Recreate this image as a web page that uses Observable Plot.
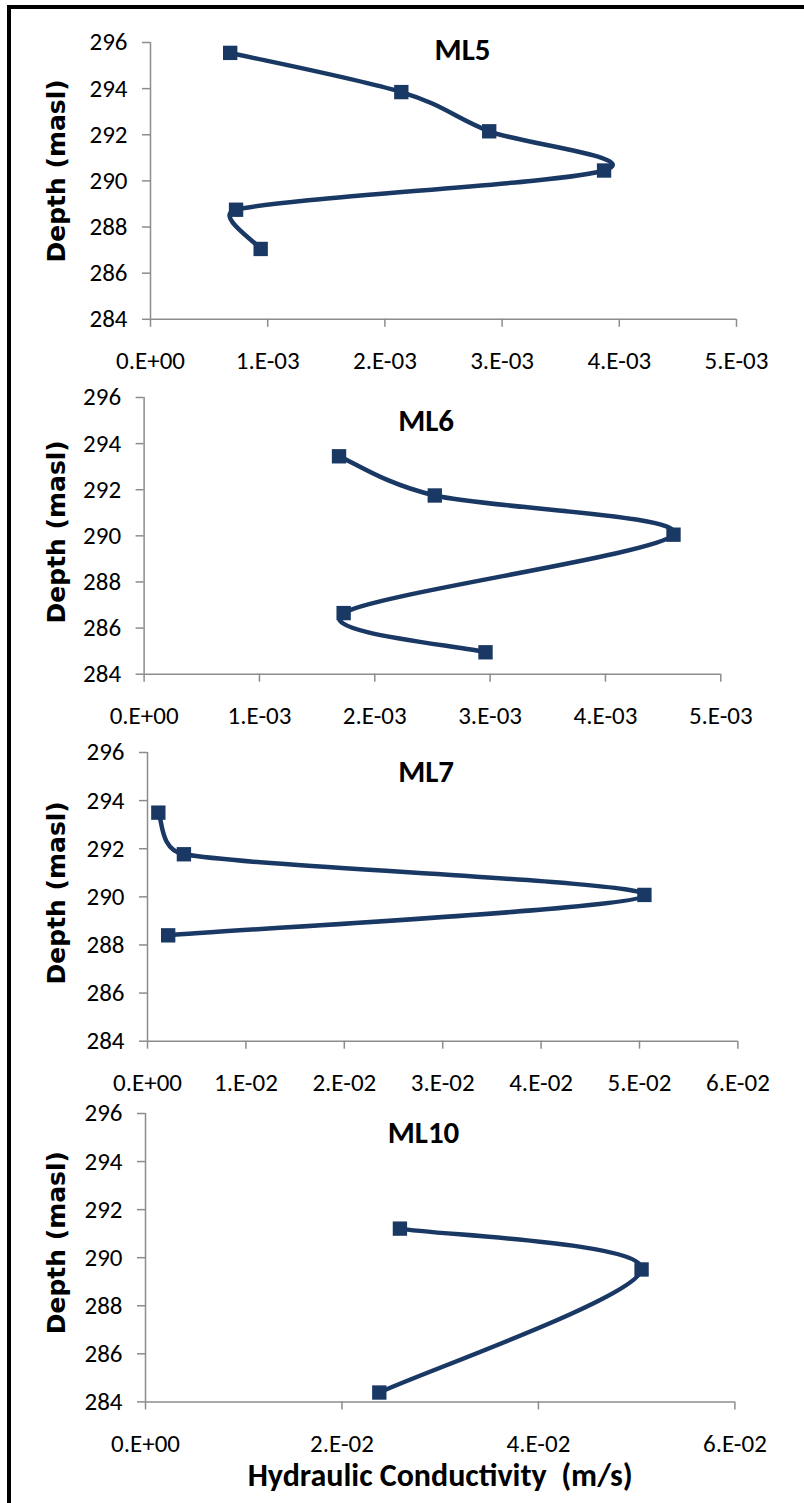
<!DOCTYPE html>
<html>
<head>
<meta charset="utf-8">
<script src="https://cdn.jsdelivr.net/npm/d3@7"></script>
<script src="https://cdn.jsdelivr.net/npm/@observablehq/plot@0.6"></script>
<style>
  html, body { margin: 0; padding: 0; background: #fff; }
  #page { position: relative; width: 804px; height: 1503px; overflow: hidden; background: #fff; }
  #page svg { position: absolute; left: 0; }
  #frame { position: absolute; left: 7px; top: 5px; right: -10px; bottom: -10px;
           border-left: 4.5px solid #000; border-top: 4.5px solid #000; z-index: 10; pointer-events: none; }
</style>
</head>
<body>
<div id="page"><div id="frame"></div></div>
<script>
// ---- data (hydraulic conductivity in m/s vs depth in masl) ----
const ml5K     = [0.68e-3, 2.14e-3, 2.89e-3, 3.87e-3, 0.73e-3, 0.94e-3];
const ml5Depth = [295.55, 293.85, 292.15, 290.45, 288.75, 287.05];

const ml6K     = [1.69e-3, 2.52e-3, 4.59e-3, 1.73e-3, 2.96e-3];
const ml6Depth = [293.45, 291.75, 290.05, 286.65, 284.95];

const ml7K     = [0.11e-2, 0.37e-2, 5.05e-2, 0.21e-2];
const ml7Depth = [293.5, 291.77, 290.08, 288.4];

const ml10K     = [2.59e-2, 5.05e-2, 2.38e-2];
const ml10Depth = [291.21, 289.51, 284.39];

const depthTicks = [284, 286, 288, 290, 292, 294, 296];
const ticksE3    = [0, 1e-3, 2e-3, 3e-3, 4e-3, 5e-3];
const ticksE2a   = [0, 1e-2, 2e-2, 3e-2, 4e-2, 5e-2, 6e-2];
const ticksE2b   = [0, 2e-2, 4e-2, 6e-2];

const titles = ["ML5", "ML6", "ML7", "ML10"];
const yLabel = "Depth (masl)";
const xLabel = "Hydraulic Conductivity\u00a0\u00a0(m/s)";

// ---- styling ----
const NAVY = "#1a3864";
const GRAY = "#8c8c8c";
const NARROW = '"Carlito", "Liberation Sans Narrow", "Arial Narrow", "DejaVu Sans Condensed", sans-serif';
const WIDE = '"DejaVu Sans", Verdana, sans-serif';

function sci(d) {
  if (d === 0) return "0.E+00";
  const e = Math.floor(Math.log10(d) + 1e-9);
  const m = Math.round(d / Math.pow(10, e));
  return `${m}.E-${String(-e).padStart(2, "0")}`;
}

// Spreadsheet-style smoothed line: Bezier segments with 1/6 tangents,
// control distance capped at half the segment length.
function SmoothCurve(context) { this._context = context; }
SmoothCurve.prototype = {
  areaStart() {}, areaEnd() {},
  lineStart() { this._pts = []; },
  point(x, y) { this._pts.push([+x, +y]); },
  lineEnd() {
    const P = this._pts, c = this._context, n = P.length;
    if (!n) return;
    c.moveTo(P[0][0], P[0][1]);
    if (n === 1) return;
    const dist = (a, b) => Math.hypot(a[0] - b[0], a[1] - b[1]);
    for (let i = 0; i < n - 1; i++) {
      const p0 = P[Math.max(i - 1, 0)], p1 = P[i], p2 = P[i + 1], p3 = P[Math.min(i + 2, n - 1)];
      const d12 = dist(p1, p2), d02 = dist(p0, p2), d13 = dist(p1, p3);
      let f1 = 1 / 6, f2 = 1 / 6;
      if (d02 > 0 && d02 / 6 > d12 / 2) f1 = d12 / (2 * d02);
      if (d13 > 0 && d13 / 6 > d12 / 2) f2 = d12 / (2 * d13);
      c.bezierCurveTo(
        p1[0] + f1 * (p2[0] - p0[0]), p1[1] + f1 * (p2[1] - p0[1]),
        p2[0] - f2 * (p3[0] - p1[0]), p2[1] - f2 * (p3[1] - p1[1]),
        p2[0], p2[1]);
    }
  }
};
const smooth = ctx => new SmoothCurve(ctx);

const panels = [
  {K: ml5K,  D: ml5Depth,  title: titles[0], ticks: ticksE3,  top: 41.5,  bottom: 318.3, left: 150,   right: 736,   tdx: 312,   tdy: 17.8, ldy: -10},
  {K: ml6K,  D: ml6Depth,  title: titles[1], ticks: ticksE3,  top: 397.3, bottom: 674,   left: 143.6, right: 720.3, tdx: 282,   tdy: 33.4, ldy: -4},
  {K: ml7K,  D: ml7Depth,  title: titles[2], ticks: ticksE2a, top: 752.3, bottom: 1041,  left: 147,   right: 737.4, tdx: 278.6, tdy: 29.4, ldy: -4},
  {K: ml10K, D: ml10Depth, title: titles[3], ticks: ticksE2b, top: 1113.3,bottom: 1401.7,left: 145,   right: 734.4, tdx: 278,   tdy: 30,   ldy: -15, xlab: true}
];

const page = document.getElementById("page");
const MT = 40;

panels.forEach(p => {
  const data = p.K.map((k, i) => ({k, d: p.D[i]}));
  const mb = p.xlab ? 100 : 70;
  const frameH = p.bottom - p.top;
  const marks = [
    Plot.ruleX([0], {stroke: GRAY, strokeWidth: 1.5}),
    Plot.ruleY([284], {stroke: GRAY, strokeWidth: 1.5}),
    Plot.axisX({ticks: p.ticks, tickFormat: sci, tickSize: 8, tickPadding: 24, stroke: GRAY, strokeWidth: 1.5, fill: "#000", label: null, fontSize: 25}),
    Plot.axisY({ticks: depthTicks, tickSize: 8, tickPadding: 15, stroke: GRAY, strokeWidth: 1.5, fill: "#000", label: null, fontSize: 25}),
    Plot.line(data, {x: "k", y: "d", curve: smooth, stroke: NAVY, strokeWidth: 4.5}),
    Plot.dot(data, {x: "k", y: "d", symbol: "square", r: 8.1, fill: NAVY, stroke: "none"}),
    Plot.text([p.title], {text: d => d, frameAnchor: "top-left", dx: p.tdx, dy: p.tdy, textAnchor: "middle", lineAnchor: "bottom",
      fontFamily: NARROW, fontWeight: "bold", fontSize: 31, fill: "#000"}),
    Plot.text([yLabel], {text: d => d, frameAnchor: "left", rotate: -90, dx: 64 - p.left, dy: p.ldy, textAnchor: "middle", lineAnchor: "bottom",
      fontFamily: WIDE, fontWeight: "bold", fontSize: 25, fill: "#000"})
  ];
  if (p.xlab) {
    marks.push(Plot.text([xLabel], {text: d => d, frameAnchor: "bottom", dy: 84.3, textAnchor: "middle", lineAnchor: "bottom",
      fontFamily: NARROW, fontWeight: "bold", fontSize: 32, fill: "#000"}));
  }
  const svg = Plot.plot({
    width: 804,
    height: MT + frameH + mb,
    marginTop: MT,
    marginBottom: mb,
    marginLeft: p.left,
    marginRight: 804 - p.right,
    x: {domain: [0, p.ticks[p.ticks.length - 1]]},
    y: {domain: [284, 296]},
    style: {fontFamily: NARROW, fontSize: "25px", color: "#000", background: "transparent", overflow: "visible"},
    marks
  });
  svg.style.top = (p.top - MT) + "px";
  page.appendChild(svg);
});
</script>
</body>
</html>
